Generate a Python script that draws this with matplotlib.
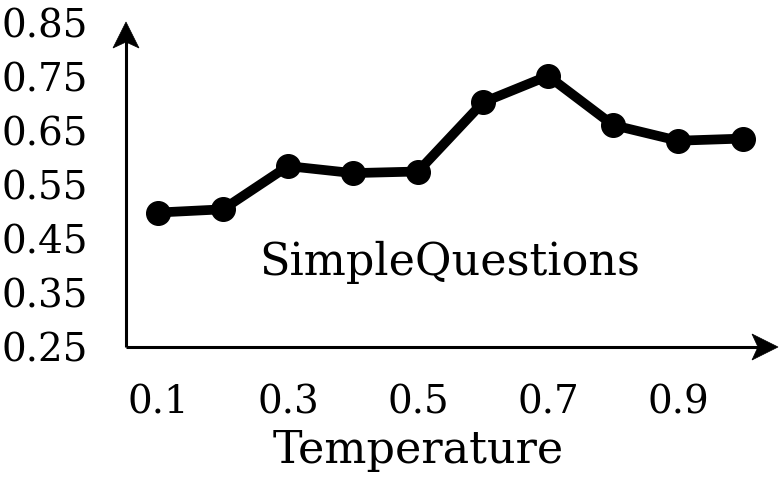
import matplotlib
matplotlib.use("Agg")
import matplotlib.pyplot as plt
from matplotlib.patches import Polygon

temperature = [0.1, 0.2, 0.3, 0.4, 0.5, 0.6, 0.7, 0.8, 0.9, 1.0]
accuracy = [0.499, 0.505, 0.585, 0.572, 0.575, 0.703, 0.752, 0.661, 0.632, 0.636]
xticks = [0.1, 0.3, 0.5, 0.7, 0.9]
yticks = [0.25, 0.35, 0.45, 0.55, 0.65, 0.75, 0.85]
dataset_name = "SimpleQuestions"

plt.rcParams['font.family'] = ['DejaVu Serif']

W, H = 779, 483
fig = plt.figure(figsize=(W / 100, H / 100), dpi=100)
left, right, bottom, top = 126, 778, 347, 22
ax = fig.add_axes([left / W, 1 - bottom / H, (right - left) / W, (bottom - top) / H])
ax.set_xlim(0.1 - 32 / 650, 0.1 + 620 / 650)
ax.set_ylim(0.25, 0.25 + 0.6 * 325 / 324)

ax.plot(temperature, accuracy, color='black', lw=7, marker='o', markersize=17,
        solid_capstyle='round', zorder=3, clip_on=False)

for s in ax.spines.values():
    s.set_visible(False)

ax.plot([0, 0], [0, 0.97], transform=ax.transAxes, color='black', lw=2.2,
        clip_on=False, solid_capstyle='butt')
ax.plot([0, 0.97], [0, 0], transform=ax.transAxes, color='black', lw=2.2,
        clip_on=False, solid_capstyle='butt')

def head(xa, ya, pts):
    base = ax.transAxes.transform((xa, ya))
    poly = Polygon([(base[0] + dx, base[1] + dy) for dx, dy in pts], closed=True,
                   facecolor='black', edgecolor='black', lw=0.5,
                   transform=None, clip_on=False)
    fig.patches.append(poly)

head(0, 1, [(0, 0), (-13, -26), (0, -20), (13, -26)])
head(1, 0, [(0, 0), (-26, 13), (-20, 0), (-26, -13)])

ax.set_xticks(xticks)
ax.set_xticklabels([f"{v:.1f}" for v in xticks])
ax.set_yticks(yticks)
ax.set_yticklabels([f"{v:.2f}" for v in yticks])
ax.tick_params(axis='both', length=0, labelsize=28)
ax.tick_params(axis='x', pad=27)
ax.tick_params(axis='y', pad=27)
ax.set_xlabel("Temperature", fontsize=32, labelpad=5)
ax.xaxis.set_label_coords(0.448, -0.26, transform=None) if False else None
ax.xaxis.label.set_x(0.448)

ax.text(0.497, 0.26, dataset_name, transform=ax.transAxes, ha='center', va='center',
        fontsize=32)

fig.savefig("out.png", dpi=100)
